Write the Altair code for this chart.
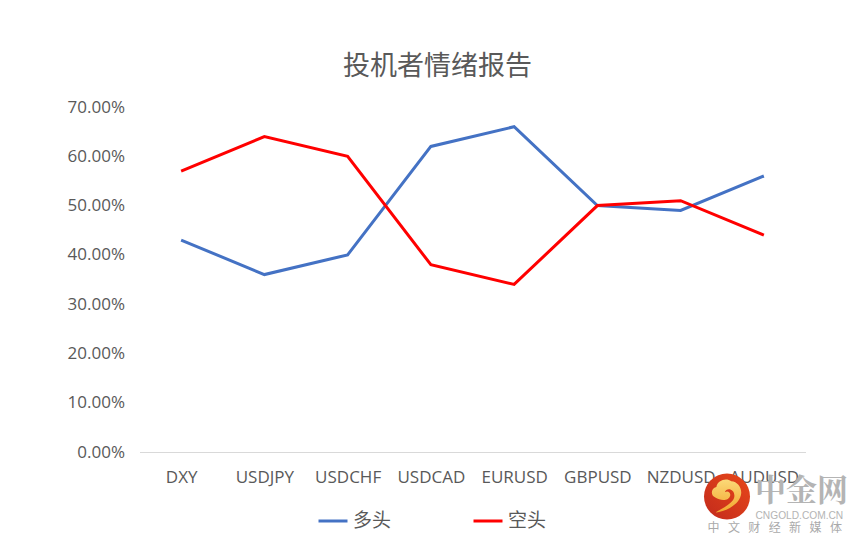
import altair as alt
import pandas as pd

categories = ["DXY", "USDJPY", "USDCHF", "USDCAD", "EURUSD", "GBPUSD", "NZDUSD", "AUDUSD"]
long_values = [0.43, 0.36, 0.40, 0.62, 0.66, 0.50, 0.49, 0.56]
short_values = [0.57, 0.64, 0.60, 0.38, 0.34, 0.50, 0.51, 0.44]
series_names = ["多头", "空头"]
series_colors = ["#4472C4", "#FF0000"]
title_text = "投机者情绪报告"

FONT = "Noto Sans CJK SC"
LATIN = "Open Sans"
TXT = "#595959"

rows = []
for i, c in enumerate(categories):
    rows.append({"cat": c, "series": series_names[0], "value": long_values[i]})
    rows.append({"cat": c, "series": series_names[1], "value": short_values[i]})
df = pd.DataFrame(rows)

lines = alt.Chart(df).mark_line(strokeWidth=3, interpolate="linear").encode(
    x=alt.X("cat:N", sort=categories, title=None,
            scale=alt.Scale(type="point", padding=0.5),
            axis=alt.Axis(labelAngle=0, ticks=False, grid=False, domainColor="#D9D9D9",
                          domainWidth=1, labelColor=TXT, labelFont=LATIN, labelFontSize=17,
                          labelPadding=17)),
    y=alt.Y("value:Q", title=None,
            scale=alt.Scale(domain=[0, 0.7], nice=False),
            axis=alt.Axis(values=[i / 10 for i in range(8)], format=".2%", ticks=False, grid=False,
                          domain=False, labelColor=TXT, labelFont=LATIN, labelFontSize=17,
                          labelPadding=15)),
    color=alt.Color("series:N", sort=series_names,
                    scale=alt.Scale(domain=series_names, range=series_colors),
                    legend=alt.Legend(title=None, orient="none", legendX=177.5, legendY=398,
                                      direction="horizontal", symbolType="stroke", symbolSize=841,
                                      symbolStrokeWidth=3, labelFont=FONT, labelFontSize=19,
                                      labelColor=TXT, columnPadding=75, labelOffset=4)),
    detail="series:N",
)

one = pd.DataFrame({"a": [0]})
# watermark, placed in pixels relative to the plot area
LX, LY = 587.5, 389.5

def mark_at(chart_mark, x, y):
    return chart_mark.encode(x=alt.value(x), y=alt.value(y))

disc_fill = alt.LinearGradient(gradient="linear", x1=1, y1=0, x2=0, y2=1,
                               stops=[alt.GradientStop(offset=0, color="#E8481A"),
                                      alt.GradientStop(offset=1, color="#C22A1C")])
cloud_fill = alt.LinearGradient(gradient="linear", x1=0.5, y1=0, x2=0.5, y2=1,
                                stops=[alt.GradientStop(offset=0, color="#FBD978"),
                                       alt.GradientStop(offset=1, color="#F2A52E")])
disc = mark_at(alt.Chart(one).mark_point(shape="circle", filled=True, opacity=1, size=2116, fill=disc_fill, strokeWidth=0), LX, LY)
cloud_path = ("M-0.55,0.75 C-0.1,0.72 0.45,0.45 0.62,0.05 C0.78,-0.3 0.55,-0.7 0.2,-0.72 "
              "C-0.05,-0.9 -0.45,-0.75 -0.5,-0.45 C-0.75,-0.4 -0.8,-0.05 -0.55,0.05 "
              "C-0.3,0.22 0.1,0.22 0.15,-0.05 C0.18,-0.2 0.02,-0.3 -0.1,-0.2 "
              "C-0.05,-0.42 0.35,-0.4 0.35,-0.02 C0.35,0.3 -0.2,0.55 -0.55,0.75 Z")
cloud = mark_at(alt.Chart(one).mark_point(shape=cloud_path, filled=True, opacity=1, size=1800, fill=cloud_fill, strokeWidth=0), LX, LY)

wm1 = mark_at(alt.Chart(one).mark_text(text="中金网", font="Noto Serif CJK SC, Noto Sans CJK SC", fontWeight="bold", fontSize=31,
                                       color="#B4B4B4", align="left", baseline="middle"), 615.5, 385)
wm2 = mark_at(alt.Chart(one).mark_text(text="CNGOLD.COM.CN", font="Liberation Sans", fontSize=10.2,
                                       color="#B4B4B4", align="left", baseline="middle"), 616, 408.5)
wm3 = mark_at(alt.Chart(one).mark_text(text="中\u2002\u2009文\u2002\u2009财\u2002\u2009经\u2002\u2009新\u2002\u2009媒\u2002\u2009体",
                                       font=FONT, fontSize=12,
                                       color="#AAAAAA", align="left", baseline="middle"), 568, 421)

chart = alt.layer(lines, disc, cloud, wm1, wm2, wm3).properties(
    width=666, height=345,
    background="white",
    autosize=alt.AutoSizeParams(type="none"),
    padding={"left": 131.5, "top": 99, "right": 47.5, "bottom": 90},
    title=alt.TitleParams(title_text, font=FONT, fontSize=27, fontWeight="normal", color=TXT,
                          anchor="middle", dx=-35, offset=17),
).configure_view(stroke=None, strokeWidth=0)

chart.save("out.html", embed_options={"renderer": "svg", "actions": False})
